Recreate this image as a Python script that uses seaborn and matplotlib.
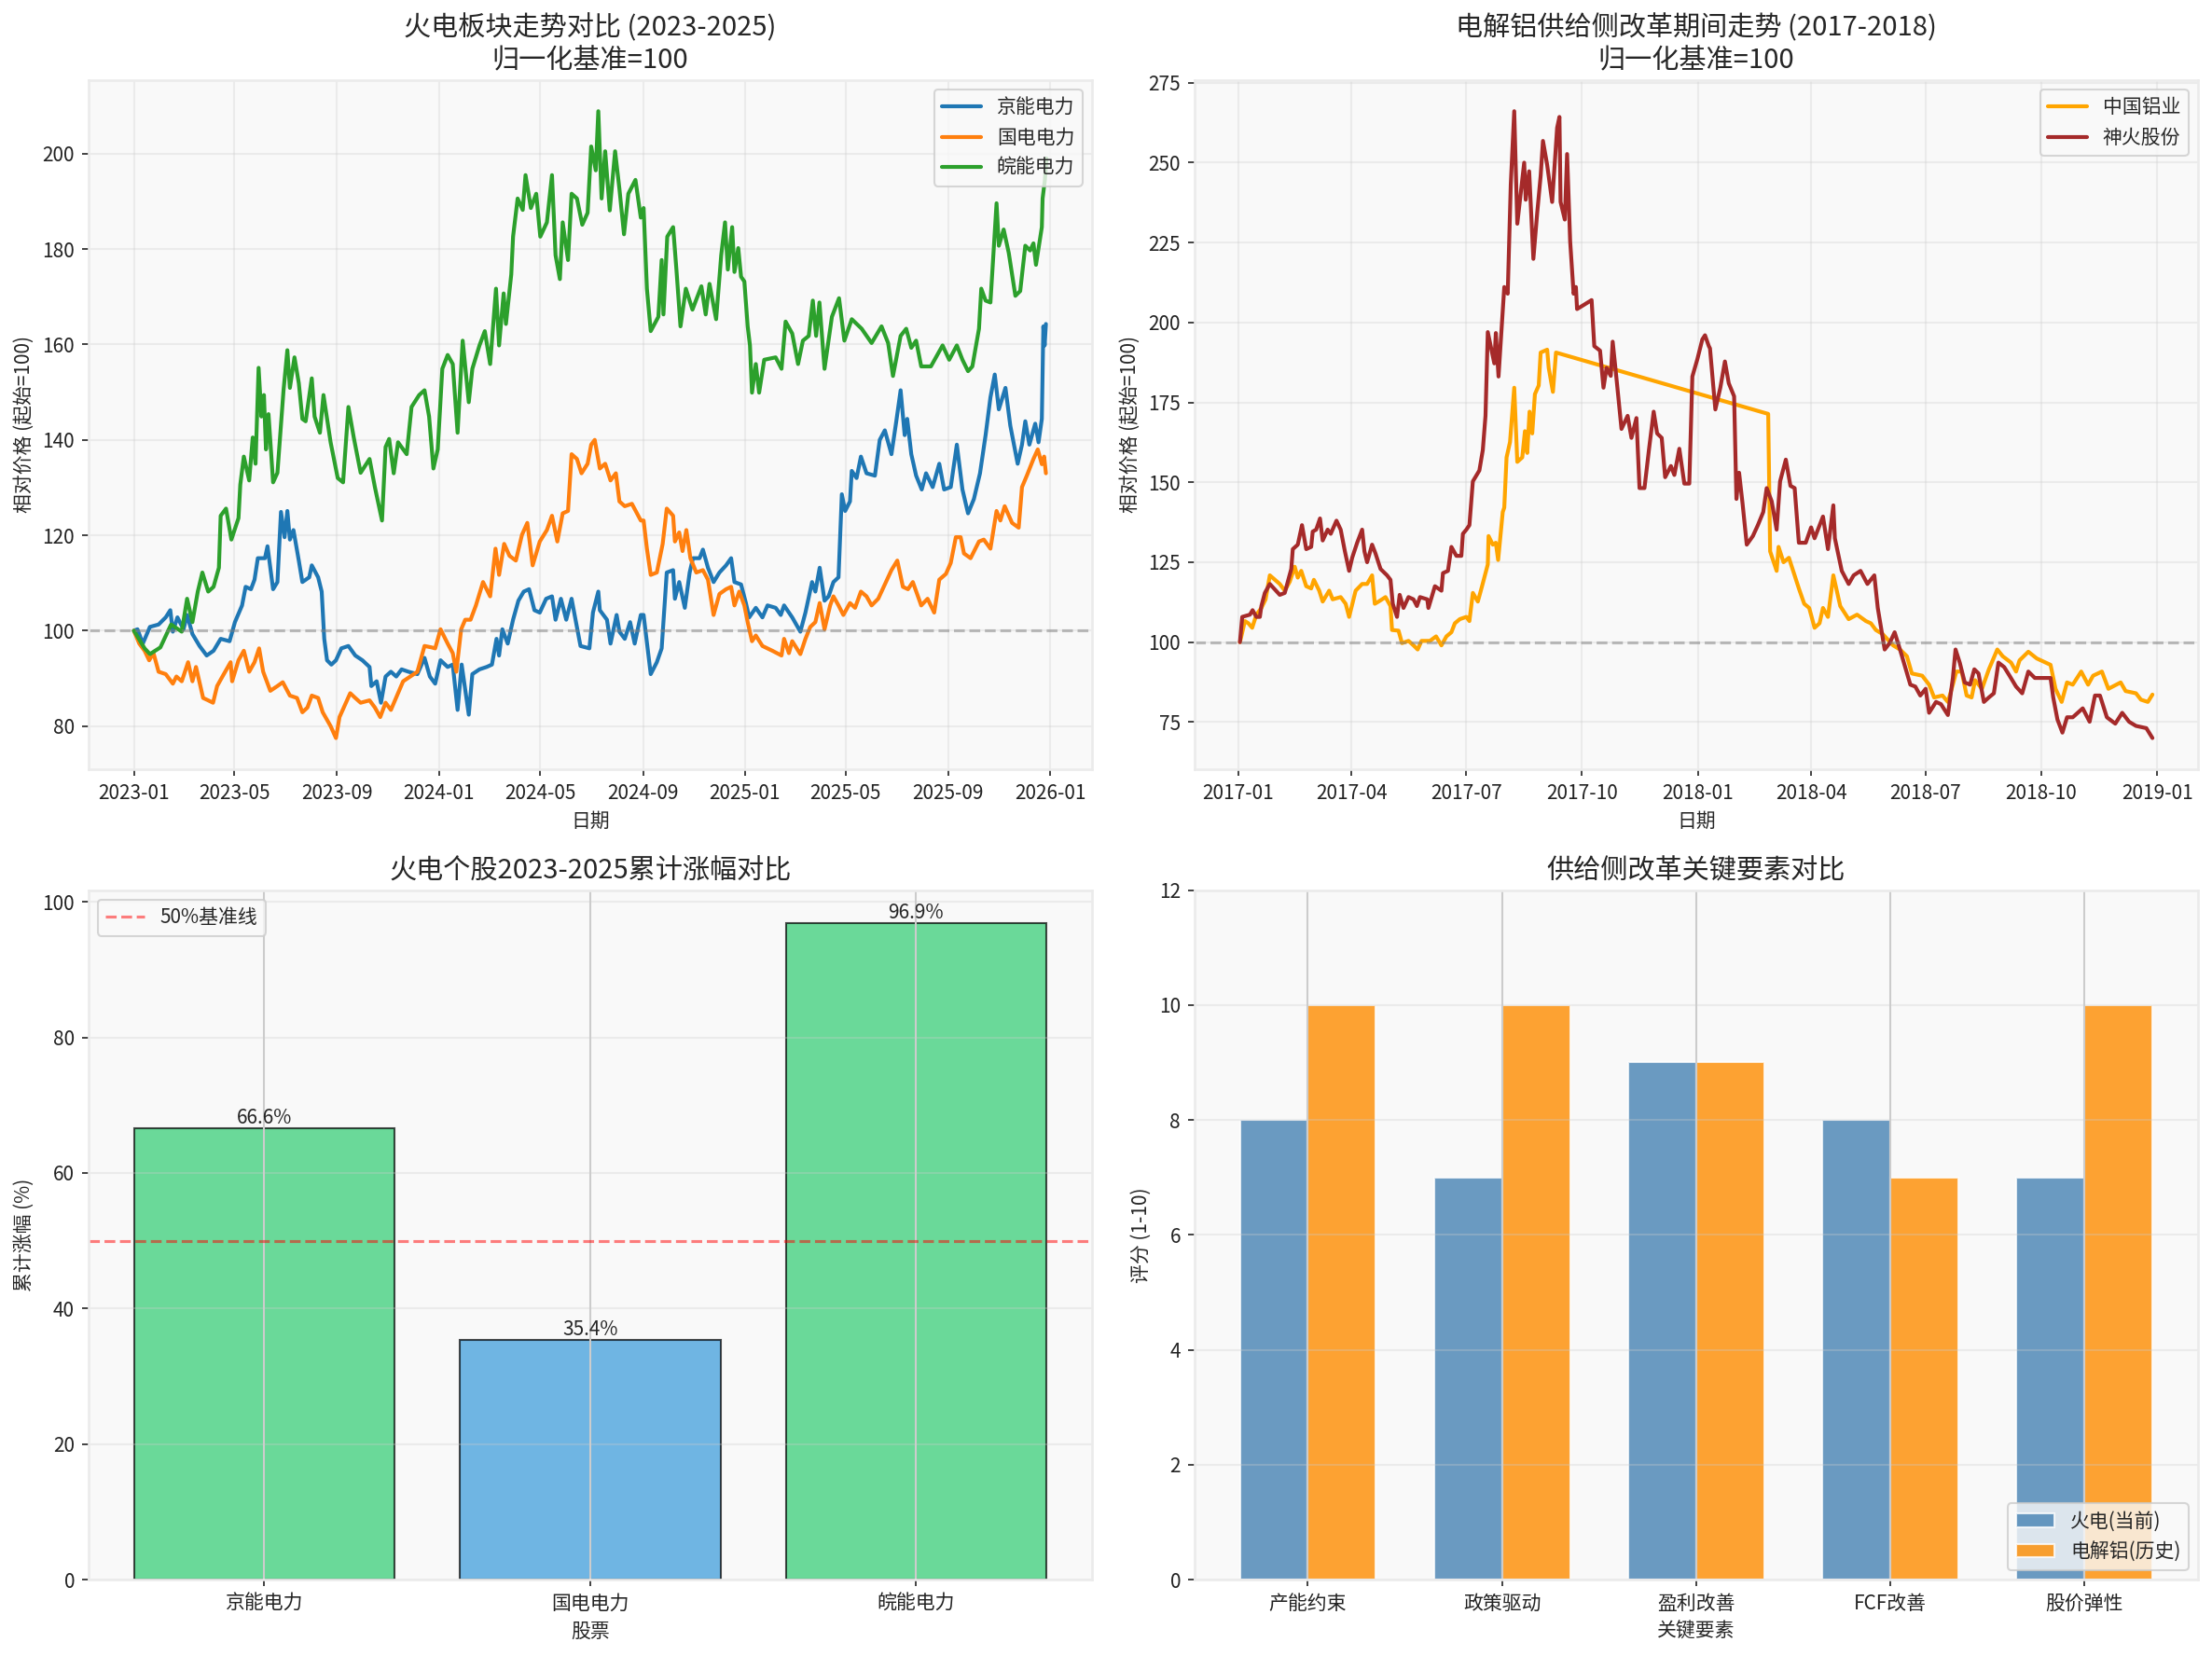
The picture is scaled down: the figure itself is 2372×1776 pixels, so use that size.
import numpy as np
import pandas as pd
import matplotlib
matplotlib.use("Agg")
import matplotlib.pyplot as plt
import matplotlib.dates as mdates
import seaborn as sns

# ---------------- data: thermal power 2023-2025 (months since 2023-01-01, normalized value) -------------
jn_t = [0, 0.14, 0.35, 0.63, 0.97, 1.25, 1.43, 1.53, 1.71, 1.95,
        2.09, 2.30, 2.58, 2.86, 3.13, 3.41, 3.76, 3.97, 4.25, 4.39,
        4.60, 4.74, 4.87, 5.15, 5.25, 5.47, 5.64, 5.78, 5.92, 6.03,
        6.13, 6.27, 6.48, 6.62, 6.89, 6.99, 7.24, 7.38, 7.48, 7.59,
        7.76, 7.94, 8.15, 8.43, 8.70, 8.98, 9.26, 9.33, 9.54, 9.71,
        9.89, 10.10, 10.31, 10.52, 10.79, 11.14, 11.42, 11.63, 11.84, 12.05,
        12.33, 12.53, 12.72, 12.88, 13.16, 13.30, 13.58, 13.86, 14.07, 14.25,
        14.35, 14.48, 14.69, 14.90, 15.11, 15.32, 15.53, 15.74, 15.95, 16.20,
        16.43, 16.57, 16.78, 16.99, 17.20, 17.55, 17.90, 18.04, 18.25, 18.31,
        18.59, 18.73, 18.97, 19.08, 19.29, 19.50, 19.68, 19.92,
        20.03, 20.31, 20.55, 20.74, 20.94, 21.19, 21.26, 21.43, 21.65, 21.84,
        21.97, 22.23, 22.36, 22.56, 22.78, 23.01, 23.27, 23.47, 23.60, 23.86,
        24.05, 24.18, 24.44, 24.70, 24.90, 25.22, 25.42, 25.55, 25.87, 26.19,
        26.39, 26.65, 26.78, 26.95, 27.14, 27.30, 27.49, 27.69, 27.82, 27.95,
        28.14, 28.21, 28.40, 28.57, 28.79, 29.12, 29.31, 29.51, 29.77, 29.96,
        30.13, 30.29, 30.39, 30.55, 30.74, 30.96, 31.13, 31.39, 31.65, 31.84,
        32.10, 32.34, 32.56, 32.78, 33.01, 33.25, 33.47, 33.66, 33.83, 33.99,
        34.25, 34.44, 34.73, 34.90, 35.03, 35.19, 35.42, 35.55, 35.68, 35.74,
        35.79, 35.84]
jn_v = [100, 100.3, 97.3, 100.8, 101.3, 102.8, 104.3, 99.8, 102.8, 100.3,
        103.3, 99.3, 96.8, 94.8, 95.8, 98.3, 97.8, 101.8, 105.3, 109.2,
        108.7, 110.7, 115.2, 115.2, 117.7, 108.7, 110.2, 124.9, 119.6, 125.1,
        119.1, 121.1, 114.7, 110.2, 111.2, 113.7, 111.2, 108.2, 98.3, 93.8,
        92.9, 93.8, 96.3, 96.8, 94.8, 93.8, 92.4, 88.4, 89.4, 84.9,
        90.4, 91.4, 90.4, 91.9, 91.4, 90.9, 94.3, 90.4, 88.9, 93.8,
        92.4, 92.9, 83.4, 92.9, 82.4, 90.9, 91.9, 92.4, 92.9, 98.3,
        94.8, 100.3, 97.3, 102.3, 106.3, 108.2, 108.7, 104.3, 103.8, 106.7,
        107.2, 102.3, 106.7, 102.3, 106.7, 96.8, 96.3, 103.8, 108.2, 104.3,
        102.3, 97.3, 103.3, 99.8, 98.3, 101.8, 97.3, 103.3,
        103.3, 90.9, 93.4, 96.3, 112.2, 112.7, 106.7, 110.2, 104.8, 112.2,
        115.2, 115.2, 117.0, 113.2, 110.2, 112.2, 113.7, 115.2, 110.2, 109.7,
        105.8, 102.8, 104.8, 102.8, 105.3, 104.8, 103.3, 105.3, 102.8, 99.8,
        103.8, 110.2, 108.2, 113.2, 106.3, 107.2, 110.2, 111.2, 128.6, 125.1,
        127.1, 133.5, 132.0, 136.5, 133.0, 132.5, 140.0, 142.0, 137.0, 143.9,
        150.4, 141.0, 144.4, 137.0, 132.5, 129.6, 133.0, 130.1, 135.0, 129.6,
        130.1, 139.0, 129.6, 124.6, 127.6, 133.0, 141.0, 148.9, 153.7, 146.4,
        150.9, 143.0, 135.0, 139.0, 143.9, 139.0, 143.4, 139.5, 144.4, 163.8,
        159.8, 164.3]

gd_t = [0, 0.21, 0.42, 0.60, 0.77, 0.97, 1.25, 1.53, 1.67, 1.88,
        2.13, 2.30, 2.44, 2.72, 2.92, 3.11, 3.27, 3.48, 3.80, 3.86,
        4.11, 4.32, 4.53, 4.74, 4.92, 5.08, 5.36, 5.64, 5.85, 6.13,
        6.41, 6.62, 6.82, 6.99, 7.24, 7.42, 7.73, 7.94, 8.08, 8.29,
        8.50, 8.70, 8.91, 9.26, 9.47, 9.68, 9.89, 10.10, 10.38, 10.58,
        10.86, 11.14, 11.42, 11.70, 11.84, 12.05, 12.33, 12.53, 12.67, 12.86,
        13.02, 13.23, 13.44, 13.72, 14.00, 14.21, 14.35, 14.55, 14.76, 15.01,
        15.25, 15.46, 15.67, 15.95, 16.23, 16.43, 16.64, 16.85, 17.06, 17.20,
        17.41, 17.59, 17.83, 17.97, 18.11, 18.31, 18.52, 18.73, 18.94, 19.08,
        19.29, 19.57, 19.92,
        20.03, 20.16, 20.31, 20.55, 20.78, 20.94, 21.19, 21.26, 21.43, 21.56,
        21.71, 21.87, 22.10, 22.36, 22.56, 22.78, 23.01, 23.27, 23.47, 23.60,
        23.79, 23.99, 24.12, 24.29, 24.44, 24.70, 25.09, 25.45, 25.55, 25.74,
        25.87, 26.19, 26.39, 26.58, 26.78, 26.95, 27.14, 27.36, 27.49, 27.69,
        27.88, 28.14, 28.34, 28.57, 28.79, 28.99, 29.25, 29.51, 29.77, 30.00,
        30.22, 30.42, 30.61, 30.94, 31.19, 31.45, 31.65, 31.91, 32.10, 32.30,
        32.49, 32.62, 32.88, 33.21, 33.40, 33.66, 33.90, 34.05, 34.22, 34.51,
        34.77, 34.90, 35.09, 35.35, 35.52, 35.68, 35.77, 35.84]
gd_v = [100, 97.3, 95.8, 93.8, 95.3, 91.4, 90.9, 88.9, 90.4, 89.4,
        93.4, 89.4, 92.4, 85.9, 85.4, 84.9, 88.4, 90.4, 93.4, 89.4,
        93.8, 95.8, 91.4, 93.4, 96.3, 91.4, 87.4, 88.4, 89.2, 86.4,
        85.9, 82.9, 83.9, 86.4, 85.9, 82.9, 80.0, 77.5, 81.9, 84.4,
        86.9, 85.9, 84.9, 85.4, 83.9, 81.9, 84.9, 83.4, 86.9, 89.4,
        90.4, 91.4, 96.8, 96.5, 96.3, 100.3, 97.3, 95.3, 91.4, 100.3,
        102.3, 102.3, 105.3, 110.2, 107.2, 117.2, 111.7, 118.2, 115.7, 114.7,
        120.1, 122.6, 113.7, 118.7, 121.1, 124.1, 118.7, 124.6, 125.1, 137.0,
        136.0, 133.0, 135.0, 139.0, 140.0, 134.0, 135.0, 131.5, 133.0, 127.1,
        126.1, 126.6, 123.1,
        123.1, 117.2, 111.7, 112.2, 118.2, 125.6, 124.1, 118.7, 120.6, 116.7,
        121.1, 115.2, 112.2, 112.7, 110.7, 103.3, 107.7, 108.7, 109.2, 105.3,
        108.2, 105.3, 101.8, 97.8, 99.0, 96.8, 95.8, 94.8, 98.3, 95.3,
        97.8, 95.1, 98.3, 100.8, 101.8, 105.8, 100.3, 105.3, 107.2, 105.3,
        103.3, 105.8, 104.8, 108.2, 107.2, 105.3, 106.7, 109.7, 112.7, 114.7,
        109.2, 108.7, 110.2, 105.3, 106.7, 103.8, 110.7, 111.9, 114.2, 119.6,
        119.6, 116.2, 115.2, 118.7, 119.1, 117.2, 125.1, 123.1, 126.1, 122.6,
        121.6, 130.1, 132.5, 136.0, 138.0, 134.9, 136.5, 133.0]

wn_t = [0, 0.42, 0.63, 1.04, 1.46, 1.88, 2.09, 2.30, 2.51, 2.69,
        2.92, 3.13, 3.34, 3.41, 3.62, 3.83, 4.11, 4.18, 4.32, 4.53,
        4.67, 4.78, 4.90, 5.01, 5.11, 5.19, 5.29, 5.47, 5.64, 5.88,
        6.03, 6.13, 6.31, 6.48, 6.62, 6.75, 6.99, 7.10, 7.31, 7.45,
        7.73, 8.01, 8.22, 8.43, 8.64, 8.91, 9.26, 9.47, 9.75, 9.89,
        10.03, 10.21, 10.38, 10.72, 10.91, 11.21, 11.42, 11.60, 11.77, 11.94,
        12.12, 12.33, 12.53, 12.72, 12.92, 13.16, 13.30, 13.58, 13.79, 14.00,
        14.23, 14.35, 14.53, 14.62, 14.83, 14.90, 15.08, 15.28, 15.39, 15.60,
        15.81, 15.97, 16.23, 16.43, 16.57, 16.74, 16.85, 17.06, 17.20, 17.41,
        17.62, 17.83, 17.97, 18.15, 18.25, 18.38, 18.52, 18.70, 18.91, 19.08,
        19.26, 19.43, 19.71, 19.92,
        20.03, 20.16, 20.31, 20.61, 20.74, 20.81, 20.96, 21.19, 21.32, 21.48,
        21.69, 21.95, 22.30, 22.47, 22.62, 22.88, 23.08, 23.23, 23.34, 23.51,
        23.60, 23.75, 23.86, 23.99, 24.12, 24.21, 24.29, 24.44, 24.57, 24.77,
        25.22, 25.45, 25.61, 25.87, 26.10, 26.29, 26.52, 26.68, 26.81, 26.94,
        27.14, 27.43, 27.71, 27.92, 28.21, 28.60, 28.99, 29.38, 29.64, 29.83,
        30.13, 30.35, 30.55, 30.74, 30.94, 31.32, 31.78, 32.04, 32.34, 32.56,
        32.78, 32.95, 33.21, 33.30, 33.47, 33.66, 33.90, 33.99, 34.18, 34.38,
        34.64, 34.83, 35.03, 35.22, 35.35, 35.45, 35.68, 35.71, 35.80, 35.86]
wn_v = [100, 96.3, 95.1, 96.5, 101.3, 99.8, 106.7, 101.8, 108.2, 112.2,
        108.2, 109.2, 113.2, 124.1, 125.6, 119.1, 123.6, 130.6, 136.5, 131.5,
        140.5, 135.0, 155.1, 144.9, 149.4, 138.0, 145.4, 131.1, 133.1, 150.4,
        158.8, 150.9, 157.3, 151.9, 144.4, 143.9, 152.9, 144.9, 141.5, 149.4,
        139.5, 132.0, 131.1, 146.9, 140.5, 133.1, 136.0, 130.1, 123.1, 138.5,
        140.2, 133.0, 139.5, 137.0, 146.9, 149.4, 150.4, 144.9, 134.0, 138.0,
        154.9, 157.8, 155.9, 141.5, 160.8, 147.9, 154.9, 159.8, 162.8, 155.9,
        171.7, 159.8, 170.7, 164.3, 174.7, 182.6, 190.6, 188.2, 195.5, 188.6,
        191.6, 182.6, 185.6, 195.5, 178.7, 173.7, 185.6, 177.7, 191.6, 190.6,
        185.1, 187.6, 201.5, 196.5, 208.9, 190.6, 200.5, 188.1, 200.5, 192.6,
        183.1, 191.6, 194.5, 186.6,
        188.6, 171.7, 162.8, 165.8, 177.7, 166.3, 182.6, 184.6, 175.7, 163.8,
        171.7, 167.3, 172.2, 166.3, 172.7, 165.3, 178.7, 185.6, 175.7, 184.6,
        175.2, 180.2, 174.2, 173.2, 163.8, 159.8, 149.9, 155.9, 149.9, 156.8,
        157.3, 154.9, 164.8, 162.3, 155.9, 160.8, 161.8, 169.2, 161.8, 168.8,
        154.9, 165.8, 169.7, 160.8, 165.3, 163.3, 160.3, 163.8, 160.3, 153.4,
        161.8, 163.3, 159.3, 160.8, 155.4, 155.4, 159.8, 156.8, 159.8, 156.8,
        154.4, 155.4, 163.3, 171.7, 169.2, 168.8, 189.6, 180.7, 184.1, 179.2,
        170.2, 171.2, 180.7, 179.7, 181.2, 176.7, 184.6, 190.6, 194.5, 199.0]

# ---------------- data: aluminium supply-side reform 2017-2018 (months since 2017-01-01) ----------------
zl_t = [0.04, 0.17, 0.26, 0.36, 0.47, 0.60, 0.71, 0.82, 1.08, 1.21,
        1.34, 1.47, 1.55, 1.64, 1.77, 1.90, 1.97, 2.11, 2.20, 2.37,
        2.46, 2.67, 2.80, 2.89, 3.06, 3.23, 3.36, 3.49, 3.56, 3.66,
        3.84, 3.97, 4.01, 4.18, 4.27, 4.44, 4.57, 4.68, 4.78, 5.00,
        5.16, 5.30, 5.43, 5.56, 5.65, 5.78, 5.95, 6.03, 6.12, 6.25,
        6.36, 6.51, 6.53, 6.64, 6.72, 6.78, 6.90, 6.94, 7.00, 7.09,
        7.20, 7.28, 7.41, 7.48, 7.54, 7.60, 7.67, 7.74, 7.84, 7.89,
        8.06, 8.10, 8.21, 8.29,
        13.83, 13.88, 14.05, 14.10, 14.23, 14.37, 14.50, 14.63, 14.77, 14.90,
        15.04, 15.17, 15.26, 15.39, 15.53, 15.71, 15.93, 16.15, 16.38, 16.51,
        16.64, 16.82, 17.09, 17.27, 17.45, 17.58, 17.85, 18.03, 18.16, 18.38,
        18.52, 18.65, 18.74, 18.88, 19.01, 19.14, 19.23, 19.41, 19.59, 19.81,
        19.95, 20.17, 20.30, 20.39, 20.62, 20.84, 21.20, 21.33, 21.49, 21.63,
        21.78, 22.00, 22.18, 22.31, 22.54, 22.71, 23.03, 23.16, 23.43, 23.56,
        23.74, 23.86]
zl_v = [100, 106.6, 105.9, 104.5, 108.6, 110.7, 113.4, 120.9, 118.2, 116.1,
        118.9, 123.6, 120.2, 122.3, 117.5, 116.8, 119.5, 116.1, 112.7, 116.1,
        113.4, 114.1, 112.0, 107.9, 116.1, 118.2, 118.2, 120.9, 112.0, 112.7,
        114.1, 111.3, 103.8, 103.6, 99.7, 100.4, 99.0, 97.7, 100.4, 100.4,
        101.8, 99.0, 101.8, 103.1, 105.9, 107.2, 107.9, 106.6, 115.4, 112.7,
        117.5, 124.3, 133.2, 130.5, 131.1, 125.7, 140.7, 142.1, 157.8, 162.6,
        179.6, 156.4, 157.8, 166.0, 159.2, 172.1, 165.3, 177.6, 180.3, 190.6,
        191.5, 185.8, 178.3, 190.6,
        171.4, 128.4, 122.3, 129.8, 125.0, 126.4, 121.6, 116.8, 112.0, 110.7,
        104.5, 105.9, 110.7, 107.9, 120.9, 111.3, 107.2, 108.6, 106.6, 105.9,
        103.8, 102.5, 99.0, 97.7, 95.6, 90.2, 89.5, 86.7, 82.7, 83.3,
        81.3, 86.7, 90.8, 90.8, 83.3, 82.7, 88.1, 85.4, 91.5, 97.7,
        95.6, 93.6, 90.8, 94.3, 97.0, 94.9, 92.9, 85.4, 81.3, 87.4,
        86.7, 90.8, 86.7, 89.5, 90.8, 85.4, 87.4, 84.7, 84.0, 82.0,
        81.3, 83.6]

sh_t = [0.04, 0.10, 0.30, 0.37, 0.47, 0.56, 0.60, 0.69, 0.82, 1.08,
        1.21, 1.29, 1.38, 1.42, 1.55, 1.66, 1.77, 1.90, 1.94, 2.03,
        2.13, 2.20, 2.33, 2.41, 2.56, 2.67, 2.78, 2.89, 2.97, 3.10,
        3.23, 3.29, 3.36, 3.49, 3.58, 3.71, 3.88, 3.97, 4.03, 4.14,
        4.21, 4.31, 4.44, 4.57, 4.66, 4.74, 4.93, 4.96, 5.13, 5.30,
        5.34, 5.47, 5.56, 5.69, 5.82, 5.86, 5.95, 6.03, 6.12, 6.29,
        6.38, 6.45, 6.51, 6.68, 6.72, 6.79, 6.94, 7.03, 7.11, 7.20,
        7.28, 7.46, 7.50, 7.59, 7.70, 7.80, 7.89, 7.95, 8.06, 8.19,
        8.32, 8.38, 8.41, 8.52, 8.58, 8.66, 8.75, 8.81, 8.84, 9.22,
        9.29, 9.44, 9.53, 9.61, 9.72, 9.77, 9.87, 10.00, 10.16, 10.26,
        10.39, 10.47, 10.60, 10.72, 10.84, 10.93, 11.05, 11.14, 11.29, 11.38,
        11.51, 11.64, 11.77, 11.85, 11.98, 12.11, 12.18, 12.28,
        12.31, 12.45, 12.58, 12.70, 12.80, 12.94, 13.00, 13.07, 13.16, 13.27,
        13.43, 13.56, 13.70, 13.79, 13.92, 14.05, 14.14, 14.29, 14.41, 14.52,
        14.63, 14.81, 14.95, 15.04, 15.26, 15.39, 15.53, 15.57, 15.75, 15.93,
        16.06, 16.24, 16.42, 16.60, 16.69, 16.87, 17.00, 17.13, 17.27, 17.54,
        17.67, 17.80, 17.94, 18.03, 18.21, 18.34, 18.52, 18.65, 18.72, 18.83,
        18.96, 19.10, 19.21, 19.32, 19.46, 19.59, 19.72, 19.84, 19.99, 20.13,
        20.30, 20.46, 20.62, 20.79, 21.02, 21.20, 21.27, 21.38, 21.51, 21.63,
        21.78, 21.91, 22.04, 22.22, 22.36, 22.49, 22.67, 22.89, 23.07, 23.25,
        23.43, 23.70, 23.86]
sh_v = [100, 107.9, 108.6, 110.0, 107.9, 107.9, 111.3, 115.4, 118.2, 114.8,
        115.4, 118.9, 122.9, 129.1, 130.5, 136.6, 129.1, 129.8, 134.6, 135.2,
        138.7, 131.8, 135.2, 133.9, 138.0, 135.2, 128.4, 122.3, 126.4, 131.1,
        135.2, 128.4, 125.0, 130.5, 127.7, 122.9, 120.9, 119.5, 112.0, 107.9,
        114.8, 110.7, 114.1, 113.4, 111.3, 114.1, 113.4, 110.7, 117.5, 116.1,
        121.6, 122.3, 129.8, 127.0, 127.0, 133.9, 135.2, 136.6, 150.3, 153.7,
        160.1, 170.8, 197.0, 187.2, 196.7, 183.1, 211.1, 209.0, 243.2, 266.1,
        230.9, 250.0, 238.4, 247.3, 219.9, 234.3, 245.9, 256.8, 249.3, 237.7,
        260.9, 264.3, 237.7, 232.2, 252.7, 225.4, 209.0, 211.1, 204.2, 207.0,
        192.6, 191.2, 179.6, 185.8, 183.3, 194.0, 182.4, 166.7, 170.8, 163.9,
        170.1, 148.2, 148.2, 160.5, 172.1, 165.3, 163.9, 151.6, 155.1, 152.3,
        160.5, 149.6, 149.6, 183.1, 188.5, 194.7, 196.0, 192.6,
        191.9, 172.8, 179.6, 187.8, 181.0, 176.9, 144.8, 153.0, 143.4, 130.5,
        133.2, 136.6, 140.7, 148.2, 144.1, 135.2, 150.3, 157.1, 148.9, 148.2,
        131.1, 131.1, 135.9, 132.5, 139.3, 129.1, 142.8, 132.5, 122.3, 118.2,
        120.9, 122.3, 118.2, 120.9, 110.7, 97.7, 99.7, 103.1, 97.7, 86.7,
        86.1, 83.3, 85.4, 77.9, 81.3, 80.6, 77.2, 88.8, 97.7, 93.6,
        87.4, 86.7, 91.5, 90.2, 81.3, 82.7, 84.0, 93.6, 92.2, 89.5,
        86.1, 84.0, 90.8, 88.8, 88.8, 88.8, 82.7, 75.8, 71.7, 76.5,
        76.5, 77.9, 79.3, 75.1, 83.3, 83.3, 76.5, 74.5, 77.9, 75.1,
        73.8, 73.1, 70.0]

# ---------------- data: bar charts ----------------
stocks = ["京能电力", "国电电力", "皖能电力"]
gains = [66.6, 35.4, 96.9]

factors = ["产能约束", "政策驱动", "盈利改善", "FCF改善", "股价弹性"]
score_thermal = [8, 7, 9, 8, 7]
score_alu = [10, 10, 9, 7, 10]

# ---------------- style ----------------
sns.set_theme(style="whitegrid")
plt.rcParams.update({
    "axes.facecolor": "#f9f9f9",
    "axes.edgecolor": "#ebebeb",
    "axes.axisbelow": "line",
    "grid.color": "#cccccc",
    "xtick.bottom": True,
    "ytick.left": True,
    "xtick.major.size": 3.5,
    "ytick.major.size": 3.5,
    "xtick.major.width": 0.8,
    "ytick.major.width": 0.8,
    "xtick.color": "#222222",
    "ytick.color": "#222222",
    "xtick.labelsize": 10,
    "ytick.labelsize": 10,
    "axes.labelsize": 10,
    "axes.titlesize": 14,
    "legend.fontsize": 10,
    "axes.unicode_minus": False,
})
plt.rcParams["font.family"] = ["Noto Sans CJK SC", "DejaVu Sans"]


def to_dates(start, months):
    return pd.Timestamp(start) + pd.to_timedelta(np.asarray(months) * 30.4375, unit="D")


fig, axes = plt.subplots(2, 2, figsize=(16, 12), dpi=150)
ax1, ax2, ax3, ax4 = axes.flat

# ---- panel 1 ----
for t, v, name, c in [(jn_t, jn_v, "京能电力", "#1f77b4"),
                      (gd_t, gd_v, "国电电力", "#ff7f0e"),
                      (wn_t, wn_v, "皖能电力", "#2ca02c")]:
    df = pd.DataFrame({"date": to_dates("2023-01-01", t), "val": v})
    sns.lineplot(data=df, x="date", y="val", ax=ax1, color=c, linewidth=2,
                 label=name, estimator=None, sort=False)
ax1.axhline(100, color="gray", linestyle="--", alpha=0.5)
ax1.set_title("火电板块走势对比 (2023-2025)\n归一化基准=100")
ax1.set_xlabel("日期")
ax1.set_ylabel("相对价格 (起始=100)")
ax1.xaxis.set_major_locator(mdates.MonthLocator(bymonth=[1, 5, 9]))
ax1.xaxis.set_major_formatter(mdates.DateFormatter("%Y-%m"))
ax1.legend(loc="upper right", framealpha=0.8)
ax1.grid(True, alpha=0.3)

# ---- panel 2 ----
for t, v, name, c in [(zl_t, zl_v, "中国铝业", "orange"),
                      (sh_t, sh_v, "神火股份", "#a52a2a")]:
    df = pd.DataFrame({"date": to_dates("2017-01-01", t), "val": v})
    sns.lineplot(data=df, x="date", y="val", ax=ax2, color=c, linewidth=2,
                 label=name, estimator=None, sort=False)
ax2.axhline(100, color="gray", linestyle="--", alpha=0.5)
ax2.set_title("电解铝供给侧改革期间走势 (2017-2018)\n归一化基准=100")
ax2.set_xlabel("日期")
ax2.set_ylabel("相对价格 (起始=100)")
ax2.xaxis.set_major_locator(mdates.MonthLocator(bymonth=[1, 4, 7, 10]))
ax2.xaxis.set_major_formatter(mdates.DateFormatter("%Y-%m"))
ax2.legend(loc="upper right", framealpha=0.8)
ax2.grid(True, alpha=0.3)

# ---- panel 3 ----
bar_colors = ["#2ecc71" if g > 50 else "#3498db" for g in gains]
bdf = pd.DataFrame({"stock": stocks, "gain": gains})
sns.barplot(data=bdf, x="stock", y="gain", hue="stock", palette=bar_colors,
            legend=False, ax=ax3, alpha=0.7, edgecolor="black", linewidth=1,
            width=0.8, saturation=1)
for i, g in enumerate(gains):
    ax3.text(i, g, f"{g:.1f}%", ha="center", va="bottom", fontsize=10)
ax3.axhline(50, color="red", linestyle="--", alpha=0.5, label="50%基准线")
ax3.set_title("火电个股2023-2025累计涨幅对比")
ax3.set_xlabel("股票")
ax3.set_ylabel("累计涨幅 (%)")
ax3.set_xlim(-0.54, 2.54)
ax3.set_ylim(0, 96.9 * 1.05)
ax3.legend(loc="upper left")
ax3.xaxis.grid(True, alpha=1.0)
ax3.yaxis.grid(True, alpha=0.3)

# ---- panel 4 ----
fdf = pd.DataFrame({
    "factor": factors * 2,
    "score": score_thermal + score_alu,
    "group": ["火电(当前)"] * len(factors) + ["电解铝(历史)"] * len(factors),
})
sns.barplot(data=fdf, x="factor", y="score", hue="group",
            palette=["steelblue", "darkorange"], ax=ax4, alpha=0.8,
            width=0.7, saturation=1, gap=0)
ax4.set_title("供给侧改革关键要素对比")
ax4.set_xlabel("关键要素")
ax4.set_ylabel("评分 (1-10)")
ax4.set_ylim(0, 12)
ax4.set_xlim(-0.585, 4.585)
h, l = ax4.get_legend_handles_labels()
ax4.legend(h, l, loc="lower right", title=None)
ax4.xaxis.grid(True, alpha=1.0)
ax4.yaxis.grid(True, alpha=0.3)

for ax in axes.flat:
    ax.set_axisbelow("line")
    for s in ax.spines.values():
        s.set_color("#ebebeb")

plt.tight_layout()
fig.savefig("out.png", dpi=150, bbox_inches="tight")
